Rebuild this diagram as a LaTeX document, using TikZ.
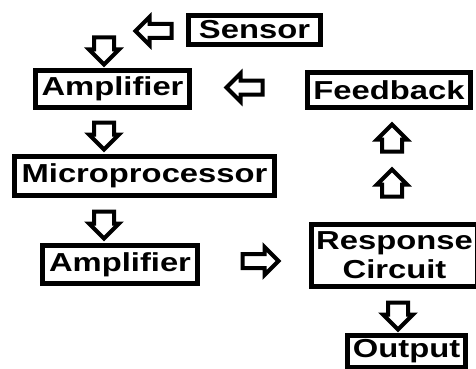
\documentclass[tikz,border=0pt]{standalone}
\usepackage{fontspec}
\setmainfont{Liberation Sans}[FakeStretch=1.26]
\usetikzlibrary{shapes,arrows}

\begin{document}
\begin{tikzpicture}[x=1pt, y=-1pt]
        % Define block styles
        \tikzstyle{block} = [rectangle, draw, line width=5pt, fill=white, inner sep=0pt,
            align=center, font=\fontsize{26}{29}\selectfont\bfseries]
        \tikzstyle{harrow} = [single arrow, draw, line width=4pt, fill=white,
            inner xsep=1pt, inner ysep=5pt, minimum height=36pt,
            single arrow head extend=7pt, single arrow tip angle=90]
        \tikzstyle{varrow} = [harrow, inner xsep=8pt, inner ysep=1pt, minimum height=27pt,
            single arrow head extend=5pt]

        \useasboundingbox (0,0) rectangle (476,369);

        % Nodes
        \node [block, minimum width=132pt, minimum height=29pt] (sensor) at (254.5,30) {Sensor};
        \node [block, minimum width=154pt, minimum height=37pt] (amptop) at (112.5,89) {Amplifier};
        \node [block, minimum width=163pt, minimum height=35pt] (feedback) at (389,90) {Feedback};
        \node [block, minimum width=260pt, minimum height=39pt] (micro) at (144.5,176) {Microprocessor};
        \node [block, minimum width=155pt, minimum height=38pt] (ampbot) at (120,264.5) {Amplifier};
        \node [block, minimum width=166pt, minimum height=62pt] (response) at (394.5,255.5) {Response\\Circuit};
        \node [block, minimum width=118pt, minimum height=32pt] (output) at (406.5,351.5) {Output};

        % Arrows
        \node [harrow, shape border rotate=180] (sensorarrow) at (157,31) {};
        \node [varrow, shape border rotate=270] (downone) at (104,46) {};
        \node [harrow, shape border rotate=180] (feedarrow) at (248,87.5) {};
        \node [varrow, shape border rotate=270] (downtwo) at (104,131) {};
        \node [varrow, shape border rotate=270] (downthree) at (104,220) {};
        \node [harrow] (rightarrow) at (257,261) {};
        \node [varrow, shape border rotate=90] (upone) at (392,143) {};
        \node [varrow, shape border rotate=90] (uptwo) at (392,188) {};
        \node [varrow, shape border rotate=270] (downfour) at (398,311) {};
    \end{tikzpicture}
\end{document}
